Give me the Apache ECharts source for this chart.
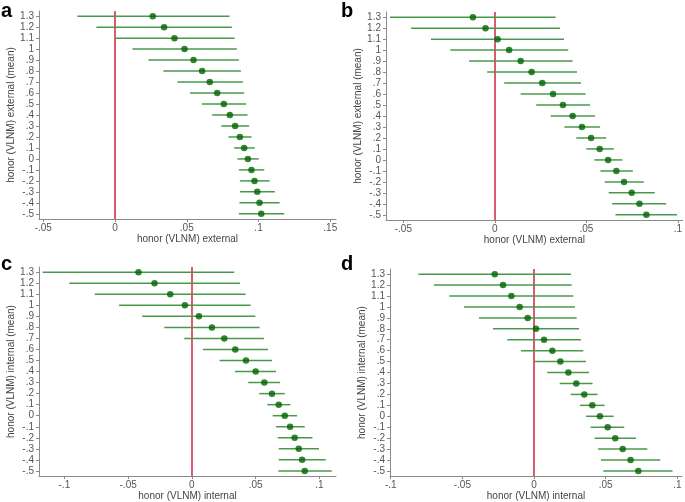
<!DOCTYPE html>
<html>
<head>
<meta charset="utf-8">
<script src="https://cdn.jsdelivr.net/npm/echarts@6/dist/echarts.min.js"></script>
<style>html,body{margin:0;padding:0;background:#fff}#c{width:685px;height:502px}</style>
</head>
<body>
<div id="c"></div>
<script>
// y positions (levels of the moderator, mean)
const yLevels = [1.3,1.2,1.1,1.0,0.9,0.8,0.7,0.6,0.5,0.4,0.3,0.2,0.1,0,-0.1,-0.2,-0.3,-0.4,-0.5];
const yTicks = [1.3,1.2,1.1,1.0,0.9,0.8,0.7,0.6,0.5,0.4,0.3,0.2,0.1,0,-0.1,-0.2,-0.3,-0.4,-0.5];

// panel a
const aMean = [0.0263,0.0342,0.0414,0.0484,0.0547,0.0607,0.0660,0.0712,0.0758,0.0800,0.0837,0.0870,0.0900,0.0926,0.0951,0.0972,0.0991,0.1007,0.1019];
const aLo   = [-0.0263,-0.0130,0.0000,0.0121,0.0233,0.0337,0.0435,0.0523,0.0605,0.0677,0.0740,0.0791,0.0830,0.0853,0.0863,0.0870,0.0870,0.0867,0.0863];
const aHi   = [0.0798,0.0814,0.0833,0.0849,0.0863,0.0877,0.0891,0.0900,0.0914,0.0923,0.0935,0.0951,0.0974,0.1002,0.1040,0.1077,0.1114,0.1147,0.1179];
const aXTicks = [-0.05,0,0.05,0.1,0.15];

// panel b
const bMean = [-0.0120,-0.0051,0.0015,0.0078,0.0141,0.0201,0.0259,0.0318,0.0372,0.0425,0.0476,0.0526,0.0573,0.0619,0.0664,0.0706,0.0748,0.0790,0.0828];
const bLo   = [-0.0573,-0.0458,-0.0349,-0.0243,-0.0141,-0.0042,0.0051,0.0141,0.0226,0.0305,0.0380,0.0445,0.0500,0.0544,0.0577,0.0600,0.0622,0.0641,0.0659];
const bHi   = [0.0332,0.0356,0.0378,0.0401,0.0425,0.0449,0.0471,0.0496,0.0520,0.0547,0.0575,0.0608,0.0650,0.0697,0.0754,0.0814,0.0874,0.0936,0.0996];
const bXTicks = [-0.05,0,0.05,0.1];

// panel c
const cMean = [-0.0419,-0.0293,-0.0170,-0.0055,0.0055,0.0157,0.0254,0.0340,0.0424,0.0500,0.0568,0.0628,0.0681,0.0728,0.0770,0.0806,0.0838,0.0864,0.0885];
const cLo   = [-0.1170,-0.0961,-0.0762,-0.0571,-0.0390,-0.0217,-0.0060,0.0086,0.0217,0.0338,0.0442,0.0529,0.0592,0.0634,0.0660,0.0673,0.0681,0.0681,0.0678];
const cHi   = [0.0332,0.0377,0.0421,0.0461,0.0497,0.0531,0.0565,0.0597,0.0628,0.0660,0.0691,0.0728,0.0772,0.0825,0.0885,0.0945,0.0997,0.1050,0.1097];
const cXTicks = [-0.1,-0.05,0,0.05,0.1];

// panel d
const dMean = [-0.0274,-0.0216,-0.0158,-0.0100,-0.0044,0.0014,0.0070,0.0128,0.0184,0.0240,0.0295,0.0351,0.0407,0.0460,0.0514,0.0567,0.0619,0.0674,0.0728];
const dLo   = [-0.0807,-0.0698,-0.0591,-0.0488,-0.0384,-0.0286,-0.0186,-0.0091,0.0002,0.0093,0.0179,0.0256,0.0321,0.0363,0.0395,0.0423,0.0447,0.0467,0.0484];
const dHi   = [0.0258,0.0263,0.0274,0.0286,0.0298,0.0314,0.0328,0.0344,0.0363,0.0384,0.0409,0.0444,0.0493,0.0556,0.0630,0.0712,0.0791,0.0881,0.0967];
const dXTicks = [-0.1,-0.05,0,0.05,0.1];

const panels = [
  {letter:'a', mean:aMean, lo:aLo, hi:aHi, xt:aXTicks, xName:'honor (VLNM) external', yName:'honor (VLNM) external (mean)',
   grid:{left:39, top:11, width:297, height:208}, xmin:-0.053, xmax:0.154, lx:1, ly:1},
  {letter:'b', mean:bMean, lo:bLo, hi:bHi, xt:bXTicks, xName:'honor (VLNM) external', yName:'honor (VLNM) external (mean)',
   grid:{left:386, top:12, width:297, height:208}, xmin:-0.0595, xmax:0.1027, lx:341, ly:1},
  {letter:'c', mean:cMean, lo:cLo, hi:cHi, xt:cXTicks, xName:'honor (VLNM) internal', yName:'honor (VLNM) internal (mean)',
   grid:{left:39, top:267, width:297, height:211}, xmin:-0.1199, xmax:0.113, lx:1, ly:254},
  {letter:'d', mean:dMean, lo:dLo, hi:dHi, xt:dXTicks, xName:'honor (VLNM) internal', yName:'honor (VLNM) internal (mean)',
   grid:{left:390, top:269, width:292, height:209}, xmin:-0.1005, xmax:0.1033, lx:341, ly:254}
];

function fmt(v){
  let s = String(Number(v.toFixed(2)));
  s = s.replace(/^(-?)0\./, '$1.');
  return s;
}

const axisCol = '#8a8a8a';
const labCol = '#555';
const ciCol = '#4a984a';
const ptCol = '#006400';
const refCol = '#d0243f';

const option = {
  animation:false,
  title: panels.map(p => ({text:p.letter, left:p.lx, top:p.ly, padding:0,
    textStyle:{fontFamily:'Liberation Sans, Arial, sans-serif', fontSize:20, fontWeight:'bold', color:'#000'}})),
  grid: panels.map(p => Object.assign({containLabel:false}, p.grid)),
  xAxis: panels.map((p,i) => ({
    type:'value', gridIndex:i, min:p.xmin, max:p.xmax,
    name:p.xName, nameLocation:'middle', nameGap:14,
    nameTextStyle:{fontFamily:'Liberation Sans, Arial, sans-serif', fontSize:10, color:'#444'},
    axisLine:{show:true, onZero:false, lineStyle:{color:axisCol, width:1}},
    axisTick:{show:true, length:3, customValues:p.xt, lineStyle:{color:axisCol}},
    axisLabel:{customValues:p.xt, formatter:fmt, margin:4, fontFamily:'Liberation Sans, Arial, sans-serif', fontSize:10, color:labCol},
    splitLine:{show:false}
  })),
  yAxis: panels.map((p,i) => ({
    type:'value', gridIndex:i, min:-0.547, max:1.347,
    name:p.yName, nameLocation:'middle', nameGap:22, nameRotate:90,
    nameTextStyle:{fontFamily:'Liberation Sans, Arial, sans-serif', fontSize:10, color:'#444'},
    axisLine:{show:true, onZero:false, lineStyle:{color:axisCol, width:1}},
    axisTick:{show:true, length:3, customValues:yTicks, lineStyle:{color:axisCol}},
    axisLabel:{customValues:yTicks, formatter:fmt, margin:5, fontFamily:'Liberation Sans, Arial, sans-serif', fontSize:10, color:labCol},
    splitLine:{show:false}
  })),
  series: []
};

panels.forEach((p,i) => {
  option.series.push({
    type:'custom', xAxisIndex:i, yAxisIndex:i, silent:true,
    data: yLevels.map((y,k) => [p.lo[k], p.hi[k], y]),
    encode:{x:[0,1], y:2},
    renderItem:(params, api) => {
      const a = api.coord([api.value(0), api.value(2)]);
      const b = api.coord([api.value(1), api.value(2)]);
      return {type:'line', shape:{x1:a[0], y1:a[1], x2:b[0], y2:b[1]}, style:{stroke:ciCol, lineWidth:1.5}};
    },
    z:2
  });
  option.series.push({
    type:'scatter', xAxisIndex:i, yAxisIndex:i, silent:true,
    data: yLevels.map((y,k) => [p.mean[k], y]),
    symbol:'circle', symbolSize:6.5, itemStyle:{color:ptCol},
    markLine:{silent:true, symbol:'none', label:{show:false}, z:1,
      lineStyle:{color:refCol, width:1.5, type:'solid', opacity:1}, data:[{xAxis:0}]},
    z:3
  });
});

const chart = echarts.init(document.getElementById('c'), null, {renderer:'canvas'});
chart.setOption(option);
</script>
</body>
</html>
